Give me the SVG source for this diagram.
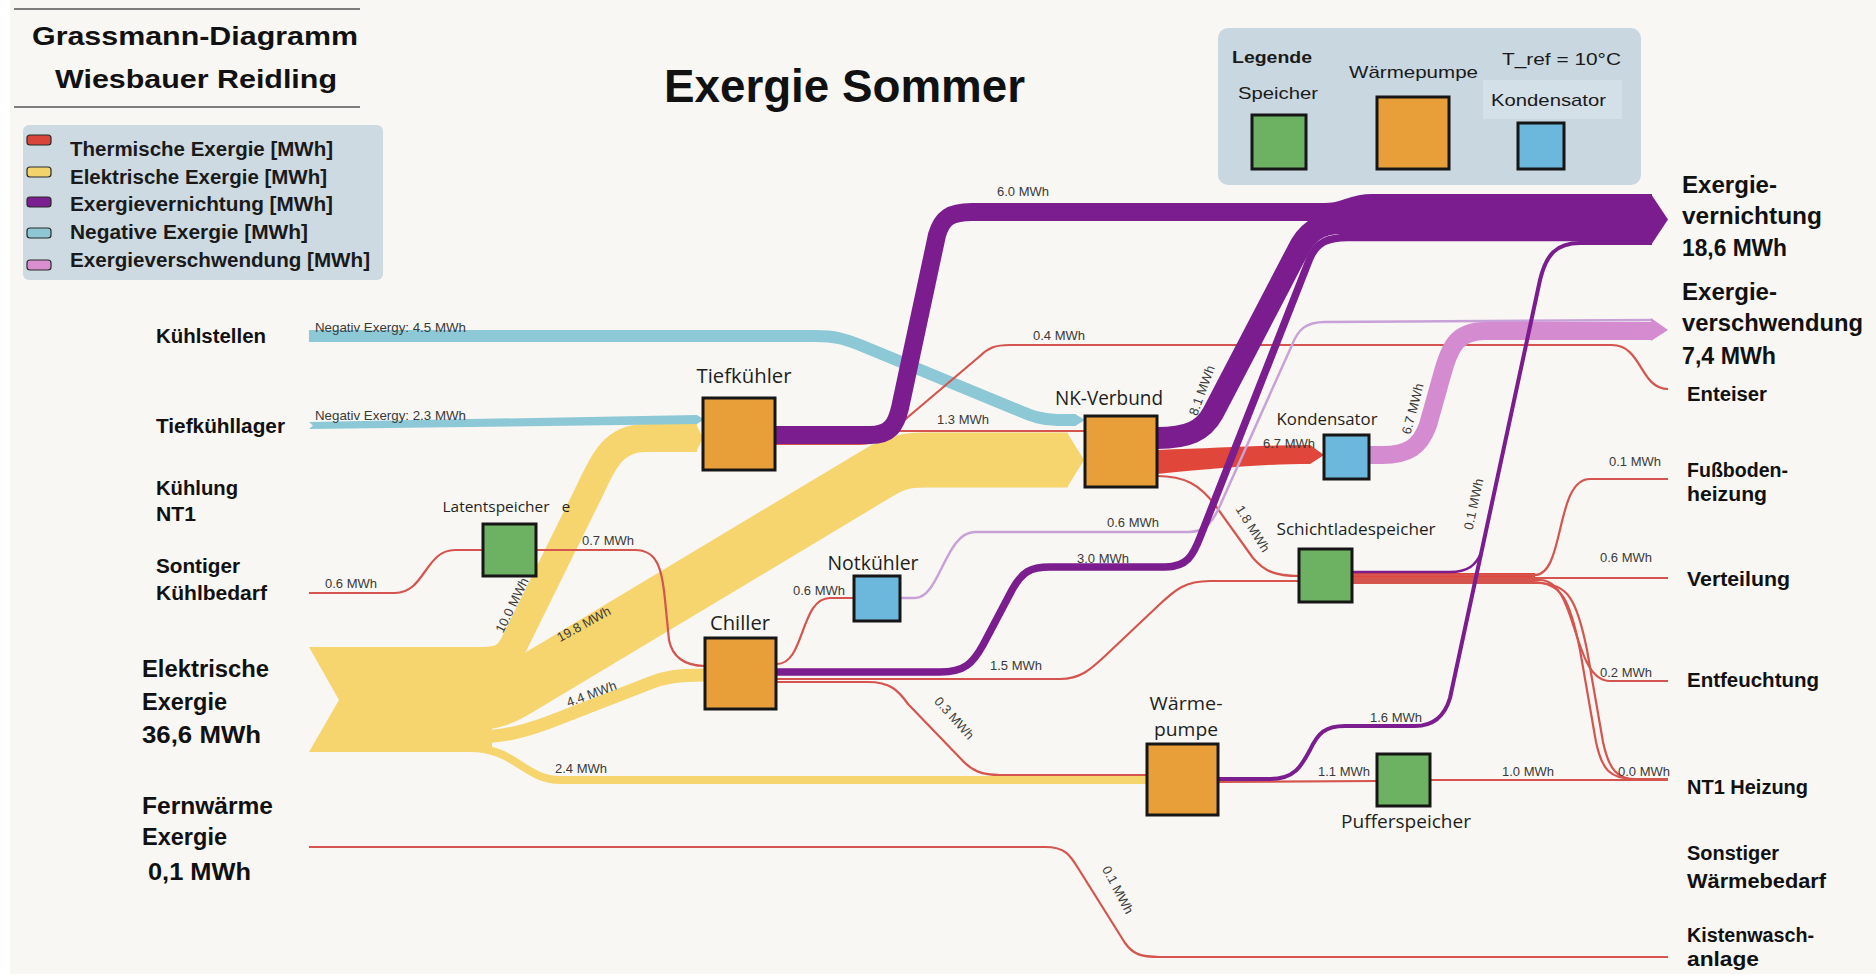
<svg xmlns="http://www.w3.org/2000/svg" width="1876" height="979" viewBox="0 0 1876 979">
<style>
  .title { font-family: "Liberation Sans", Arial, sans-serif; font-weight: bold; fill: #111; }
  .leg { font-family: "Liberation Sans", Arial, sans-serif; font-weight: bold; font-size: 20px; fill: #1a1a1a; }
  .side { font-family: "Liberation Sans", Arial, sans-serif; font-weight: bold; font-size: 20px; fill: #111; }
  .big { font-size: 23px; }
  .lbl { font-family: "Open Sans", "Liberation Sans", sans-serif; fill: #1e1e1e; text-anchor: middle; }
  .key { font-family: "Liberation Sans", Arial, sans-serif; font-size: 17px; fill: #1a1a1a; }
  .val { font-family: "Liberation Sans", Arial, sans-serif; font-size: 13px; fill: #3a3a3a; }
  .valc { font-family: "Liberation Sans", Arial, sans-serif; font-size: 13px; fill: #3a3a3a; text-anchor: middle; }
  .box { stroke: #161616; stroke-width: 3; }
  .orange { fill: #e89f3a; }
  .green { fill: #6db262; }
  .blue { fill: #6bb8dc; }
  .sw { stroke: #2a2a2a; stroke-width: 1.2; }
  .f { fill: none; stroke-linecap: butt; stroke-linejoin: round; }
  .yel { stroke: #f6d46e; }
  .neg { stroke: #8dc8d6; }
  .pur { stroke: #7b1d8f; }
  .rl { stroke: #d5544e; stroke-width: 2.2; }
  .red { stroke: #e0473a; }
  .pnk { stroke: #d58bd0; }
</style>

<!-- page -->
<rect x="0" y="0" width="1876" height="979" fill="#ffffff"/>
<rect x="10" y="0" width="1866" height="974" fill="#f8f7f3"/>

<!-- heading block -->
<g id="heading">
  <line x1="14" y1="9" x2="360" y2="9" stroke="#7d7d7d" stroke-width="2"/>
  <text class="title" x="32" y="45" font-size="26" textLength="326" lengthAdjust="spacingAndGlyphs">Grassmann-Diagramm</text>
  <text class="title" x="55" y="88" font-size="26" textLength="282" lengthAdjust="spacingAndGlyphs">Wiesbauer Reidling</text>
  <line x1="14" y1="107" x2="360" y2="107" stroke="#7d7d7d" stroke-width="2"/>
  <text class="title" x="664" y="102" font-size="46" textLength="361" lengthAdjust="spacingAndGlyphs">Exergie Sommer</text>
</g>

<!-- colour key -->
<g id="flow-key">
  <rect x="23" y="125" width="360" height="155" rx="6" fill="#cddae2"/>
  <rect class="sw" x="27" y="135" width="24" height="10" rx="3" fill="#d9453b"/>
  <rect class="sw" x="27" y="167" width="24" height="10" rx="3" fill="#f3d36b"/>
  <rect class="sw" x="27" y="197" width="24" height="10" rx="3" fill="#7b1e90"/>
  <rect class="sw" x="27" y="228" width="24" height="10" rx="3" fill="#8ec6d4"/>
  <rect class="sw" x="27" y="260" width="24" height="10" rx="3" fill="#d98fcf"/>
  <text class="leg" x="70" y="156" textLength="263" lengthAdjust="spacingAndGlyphs">Thermische Exergie [MWh]</text>
  <text class="leg" x="70" y="184" textLength="257" lengthAdjust="spacingAndGlyphs">Elektrische Exergie [MWh]</text>
  <text class="leg" x="70" y="211" textLength="263" lengthAdjust="spacingAndGlyphs">Exergievernichtung [MWh]</text>
  <text class="leg" x="70" y="239" textLength="238" lengthAdjust="spacingAndGlyphs">Negative Exergie [MWh]</text>
  <text class="leg" x="70" y="267" textLength="300" lengthAdjust="spacingAndGlyphs">Exergieverschwendung [MWh]</text>
</g>

<!-- component key -->
<g id="node-key">
  <rect x="1218" y="28" width="423" height="157" rx="10" fill="#c9d7e1"/>
  <rect x="1483" y="80" width="139" height="39" fill="#d4e0e8"/>
  <text class="key" x="1232" y="63" font-weight="bold" textLength="80" lengthAdjust="spacingAndGlyphs">Legende</text>
  <text class="key" x="1502" y="65" font-size="18" textLength="119" lengthAdjust="spacingAndGlyphs">T_ref = 10°C</text>
  <text class="key" x="1349" y="78" textLength="129" lengthAdjust="spacingAndGlyphs">Wärmepumpe</text>
  <text class="key" x="1238" y="99" textLength="80" lengthAdjust="spacingAndGlyphs">Speicher</text>
  <text class="key" x="1491" y="106" textLength="115" lengthAdjust="spacingAndGlyphs">Kondensator</text>
  <rect class="box green" x="1252" y="115" width="54" height="54"/>
  <rect class="box orange" x="1377" y="97" width="72" height="72"/>
  <rect class="box blue" x="1518" y="123" width="46" height="46"/>
</g>

<!-- flows -->
<g id="connectors">
  <!-- electrical exergy -->
  <polygon points="309,647 492,647 492,752 309,752 339,700" fill="#f6d46e"/>
  <path class="f yel" stroke-width="28" d="M 480 661 C 500 661 507 657 513 646 L 590 490 C 602 465 612 438 645 438 L 697 438"/>
  <polygon points="696,424 703,438 696,452" fill="#f6d46e"/>
  <path class="f yel" stroke-width="55" d="M 470 703 C 492 703 503 698 518 689 L 878 473 C 893 464 903 460 925 460 L 1068 460"/>
  <polygon points="1067,432.5 1084,460 1067,487.5" fill="#f6d46e"/>
  <path class="f yel" stroke-width="13" d="M 470 737.5 C 505 737.5 530 730 560 718 L 650 683 C 665 677 678 675 704 675"/>
  <path class="f yel" stroke-width="8" d="M 470 748 C 515 748 525 780 560 780 L 1148 780"/>

  <!-- negative exergy -->
  <path class="f neg" stroke-width="12" d="M 309 336 L 815 336 C 835 336 845 339 860 345 L 1015 409 C 1030 415 1040 420 1058 420 L 1076 420"/>
  <polygon points="1075,414 1085,420 1075,426" fill="#8dc8d6"/>
  <polygon points="309,422 697,415 704,419.5 697,424 309,429 313,425.5" fill="#8dc8d6"/>

  <!-- thermal exergy, thin lines -->
  <path class="f rl" d="M 309 593 L 395 593 C 425 593 425 550 455 550 L 484 550"/>
  <path class="f rl" d="M 536 550 L 635 550 C 657 550 662 568 665 600 L 669 640 C 672 656 684 666 705 666"/>
  <path class="f rl" d="M 776 443 L 860 443 C 878 443 884 431 900 431 L 1086 431"/>
  <path class="f rl" d="M 776 444 L 860 444 C 876 444 885 436 895 428 L 980 356 C 988 348 995 345 1010 345 L 1612 345 C 1642 345 1640 389 1668 389"/>
  <path class="f rl" d="M 777 664 C 805 664 800 598 830 598 L 855 598"/>
  <path class="f rl" stroke-width="3" d="M 777 679 L 1060 679 C 1080 679 1090 670 1105 656 L 1160 604 C 1175 590 1185 581 1210 581 L 1299 581"/>
  <path class="f rl" d="M 777 682 L 868 682 C 890 682 898 690 908 704 L 962 760 C 972 771 982 775 1000 775 L 1148 775"/>
  <path class="f rl" stroke-width="5" d="M 1157 476 C 1185 476 1200 485 1215 505 L 1253 558 C 1264 571 1275 576 1299 576"/>
  <path class="f rl" d="M 309 847 L 1045 847 C 1065 847 1070 855 1078 868 L 1125 943 C 1133 954 1140 957 1160 957 L 1668 957"/>
  <path class="f red" stroke-width="10" d="M 1352 578 L 1535 578"/>
  <path class="f rl" d="M 1352 575 L 1535 575 C 1565 575 1555 479 1590 479 L 1668 479"/>
  <path class="f rl" stroke-width="2.6" d="M 1352 578 L 1668 578"/>
  <path class="f rl" d="M 1352 580 L 1540 580 C 1578 580 1572 681 1610 681 L 1668 681"/>
  <path class="f rl" d="M 1352 582 L 1532 582 C 1562 582 1570 600 1580 650 L 1596 742 C 1602 770 1610 779 1635 779 L 1668 779"/>
  <path class="f rl" d="M 1352 583 L 1538 583 C 1568 583 1577 600 1587 650 L 1603 742 C 1609 770 1617 780 1640 780 L 1668 780"/>
  <path class="f rl" stroke-width="3" d="M 1218 782 L 1377 781"/>
  <path class="f rl" stroke-width="3" d="M 1430 780 L 1668 780"/>
  <path class="f rl" stroke-width="5" d="M 1605 780 L 1668 780"/>
  <path d="M 1157 450 C 1220 448 1262 445 1310 445 L 1324 455 L 1310 464 C 1262 464 1220 468 1157 474 Z" fill="#e0473a"/>

  <!-- exergy waste -->
  <path class="f" stroke="#c9a1d9" stroke-width="2.5" d="M 901 598 L 915 598 C 940 598 945 532 975 532 L 1188 532 C 1205 532 1212 522 1218 510 L 1292 345 C 1298 330 1305 322 1325 322 L 1652 320"/>
  <path class="f pnk" stroke-width="18" d="M 1369 455 L 1382 455 C 1408 455 1420 447 1428 425 L 1442 375 C 1450 345 1458 331 1485 331 L 1652 331"/>
  <polygon points="1651,318 1668,330 1651,341" fill="#d58bd0"/>

  <!-- exergy destruction -->
  <path class="f pur" stroke-width="18" d="M 775 435 L 870 435 C 890 435 896 425 900 408 L 937 235 C 942 218 950 212 972 212 L 1325 212 C 1345 212 1350 203 1372 203 L 1652 203"/>
  <path class="f pur" stroke-width="22" d="M 1157 438 C 1188 438 1203 431 1213 413 L 1297 252 C 1306 233 1318 223 1342 223 L 1652 223"/>
  <path class="f pur" stroke-width="7.5" d="M 776 672 L 940 672 C 965 672 973 663 983 645 L 1012 590 C 1022 572 1030 567 1050 567 L 1165 567 C 1187 567 1193 556 1201 535 L 1310 258 C 1317 242 1328 237.5 1348 237.5 L 1652 237.5"/>
  <path class="f pur" stroke-width="4" d="M 1218 779 L 1270 779 C 1295 779 1302 765 1310 750 C 1318 733 1325 726 1345 726 L 1415 726 C 1435 726 1445 715 1450 698 L 1540 280 C 1546 255 1556 243 1580 243 L 1652 243"/>
  <path class="f pur" stroke-width="2.5" d="M 1352 572 L 1450 572 C 1468 572 1476 565 1481 553"/>
  <polygon points="1651,194 1668,219.5 1651,245" fill="#7b1d8f"/>

  <!-- flow values -->
  <text class="val" x="315" y="332" textLength="151" lengthAdjust="spacingAndGlyphs">Negativ Exergy: 4.5 MWh</text>
  <text class="val" x="315" y="420" textLength="151" lengthAdjust="spacingAndGlyphs">Negativ Exergy: 2.3 MWh</text>
  <text class="val" x="325" y="588">0.6 MWh</text>
  <text class="val" x="582" y="545">0.7 MWh</text>
  <text class="valc" transform="translate(516 607) rotate(-64)">10.0 MWh</text>
  <text class="valc" transform="translate(586 628) rotate(-29)">19.8 MWh</text>
  <text class="valc" transform="translate(593 698) rotate(-20)">4.4 MWh</text>
  <text class="val" x="555" y="773">2.4 MWh</text>
  <text class="val" x="997" y="196">6.0 MWh</text>
  <text class="val" x="1033" y="340">0.4 MWh</text>
  <text class="val" x="937" y="424">1.3 MWh</text>
  <text class="valc" transform="translate(1206 392) rotate(-70)">8.1 MWh</text>
  <text class="val" x="1263" y="448">6.7 MWh</text>
  <text class="valc" transform="translate(1417 410) rotate(-75)">6.7 MWh</text>
  <text class="val" x="1107" y="527">0.6 MWh</text>
  <text class="valc" transform="translate(1249 531) rotate(58)">1.8 MWh</text>
  <text class="val" x="1077" y="563">3.0 MWh</text>
  <text class="val" x="793" y="595">0.6 MWh</text>
  <text class="val" x="990" y="670">1.5 MWh</text>
  <text class="valc" transform="translate(951 721) rotate(48)">0.3 MWh</text>
  <text class="valc" transform="translate(1478 505) rotate(-78)">0.1 MWh</text>
  <text class="val" x="1609" y="466">0.1 MWh</text>
  <text class="val" x="1600" y="562">0.6 MWh</text>
  <text class="val" x="1600" y="677">0.2 MWh</text>
  <text class="val" x="1618" y="776">0.0 MWh</text>
  <text class="val" x="1370" y="722">1.6 MWh</text>
  <text class="val" x="1318" y="776">1.1 MWh</text>
  <text class="val" x="1502" y="776">1.0 MWh</text>
  <text class="valc" transform="translate(1114 892) rotate(62)">0.1 MWh</text>
</g>

<!-- components -->
<g id="node-tiefkuehler">
  <rect class="box orange" x="703" y="398" width="72" height="72"/>
  <text class="lbl" x="744" y="383" font-size="20" textLength="95" lengthAdjust="spacingAndGlyphs">Tiefkühler</text>
</g>
<g id="node-nk-verbund">
  <rect class="box orange" x="1085" y="416" width="72" height="71"/>
  <text class="lbl" x="1109" y="405" font-size="20" textLength="108" lengthAdjust="spacingAndGlyphs">NK-Verbund</text>
</g>
<g id="node-latentspeicher">
  <rect class="box green" x="483" y="524" width="53" height="52"/>
  <text class="lbl" x="496" y="512" font-size="15" textLength="107" lengthAdjust="spacingAndGlyphs">Latentspeicher</text>
  <text class="lbl" x="566" y="512" font-size="15" fill="#444">e</text>
</g>
<g id="node-notkuehler">
  <rect class="box blue" x="854" y="576" width="46" height="45"/>
  <text class="lbl" x="873" y="570" font-size="20" textLength="91" lengthAdjust="spacingAndGlyphs">Notkühler</text>
</g>
<g id="node-chiller">
  <rect class="box orange" x="705" y="638" width="71" height="71"/>
  <text class="lbl" x="740" y="630" font-size="20" textLength="60" lengthAdjust="spacingAndGlyphs">Chiller</text>
</g>
<g id="node-kondensator">
  <rect class="box blue" x="1324" y="435" width="45" height="44"/>
  <text class="lbl" x="1327" y="425" font-size="17" textLength="101" lengthAdjust="spacingAndGlyphs">Kondensator</text>
</g>
<g id="node-schichtladespeicher">
  <rect class="box green" x="1299" y="549" width="53" height="53"/>
  <text class="lbl" x="1356" y="535" font-size="16" textLength="159" lengthAdjust="spacingAndGlyphs">Schichtladespeicher</text>
</g>
<g id="node-waermepumpe">
  <rect class="box orange" x="1147" y="744" width="71" height="71"/>
  <text class="lbl" x="1186" y="710" font-size="19" textLength="73" lengthAdjust="spacingAndGlyphs">Wärme-</text>
  <text class="lbl" x="1186" y="736" font-size="19" textLength="64" lengthAdjust="spacingAndGlyphs">pumpe</text>
</g>
<g id="node-pufferspeicher">
  <rect class="box green" x="1377" y="754" width="53" height="52"/>
  <text class="lbl" x="1406" y="828" font-size="18" textLength="130" lengthAdjust="spacingAndGlyphs">Pufferspeicher</text>
</g>

<!-- sources -->
<g id="src-kuehlstellen"><text class="side" x="156" y="343" textLength="110" lengthAdjust="spacingAndGlyphs">Kühlstellen</text></g>
<g id="src-tiefkuehllager"><text class="side" x="156" y="433" textLength="129" lengthAdjust="spacingAndGlyphs">Tiefkühllager</text></g>
<g id="src-kuehlung-nt1">
  <text class="side" x="156" y="495" textLength="82" lengthAdjust="spacingAndGlyphs">Kühlung</text>
  <text class="side" x="156" y="521" textLength="40" lengthAdjust="spacingAndGlyphs">NT1</text>
</g>
<g id="src-sonstiger-kuehlbedarf">
  <text class="side" x="156" y="573" textLength="84" lengthAdjust="spacingAndGlyphs">Sontiger</text>
  <text class="side" x="156" y="600" textLength="111" lengthAdjust="spacingAndGlyphs">Kühlbedarf</text>
</g>
<g id="src-elektrische-exergie">
  <text class="side big" x="142" y="677" textLength="127" lengthAdjust="spacingAndGlyphs">Elektrische</text>
  <text class="side big" x="142" y="710" textLength="85" lengthAdjust="spacingAndGlyphs">Exergie</text>
  <text class="side big" x="142" y="743" textLength="119" lengthAdjust="spacingAndGlyphs">36,6 MWh</text>
</g>
<g id="src-fernwaerme">
  <text class="side big" x="142" y="814" textLength="131" lengthAdjust="spacingAndGlyphs">Fernwärme</text>
  <text class="side big" x="142" y="845" textLength="85" lengthAdjust="spacingAndGlyphs">Exergie</text>
  <text class="side big" x="148" y="880" textLength="103" lengthAdjust="spacingAndGlyphs">0,1 MWh</text>
</g>

<!-- sinks -->
<g id="sink-vernichtung">
  <text class="side big" x="1682" y="193" textLength="95" lengthAdjust="spacingAndGlyphs">Exergie-</text>
  <text class="side big" x="1682" y="224" textLength="140" lengthAdjust="spacingAndGlyphs">vernichtung</text>
  <text class="side big" x="1682" y="256" textLength="105" lengthAdjust="spacingAndGlyphs">18,6 MWh</text>
</g>
<g id="sink-verschwendung">
  <text class="side big" x="1682" y="300" textLength="95" lengthAdjust="spacingAndGlyphs">Exergie-</text>
  <text class="side big" x="1682" y="331" textLength="181" lengthAdjust="spacingAndGlyphs">verschwendung</text>
  <text class="side big" x="1682" y="364" textLength="94" lengthAdjust="spacingAndGlyphs">7,4 MWh</text>
</g>
<g id="sink-enteiser"><text class="side" x="1687" y="401" textLength="80" lengthAdjust="spacingAndGlyphs">Enteiser</text></g>
<g id="sink-fussbodenheizung">
  <text class="side" x="1687" y="477" textLength="101" lengthAdjust="spacingAndGlyphs">Fußboden-</text>
  <text class="side" x="1687" y="501" textLength="80" lengthAdjust="spacingAndGlyphs">heizung</text>
</g>
<g id="sink-verteilung"><text class="side" x="1687" y="586" textLength="103" lengthAdjust="spacingAndGlyphs">Verteilung</text></g>
<g id="sink-entfeuchtung"><text class="side" x="1687" y="687" textLength="132" lengthAdjust="spacingAndGlyphs">Entfeuchtung</text></g>
<g id="sink-nt1-heizung"><text class="side" x="1687" y="794" textLength="121" lengthAdjust="spacingAndGlyphs">NT1 Heizung</text></g>
<g id="sink-sonstiger-waermebedarf">
  <text class="side" x="1687" y="860" textLength="92" lengthAdjust="spacingAndGlyphs">Sonstiger</text>
  <text class="side" x="1687" y="888" textLength="139" lengthAdjust="spacingAndGlyphs">Wärmebedarf</text>
</g>
<g id="sink-kistenwaschanlage">
  <text class="side" x="1687" y="942" textLength="127" lengthAdjust="spacingAndGlyphs">Kistenwasch-</text>
  <text class="side" x="1687" y="966" textLength="72" lengthAdjust="spacingAndGlyphs">anlage</text>
</g>
</svg>
